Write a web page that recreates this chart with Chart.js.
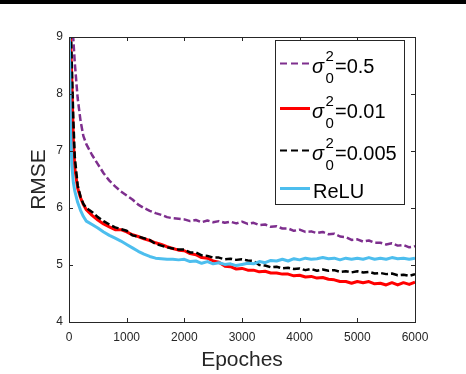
<!DOCTYPE html>
<html>
<head>
<meta charset="utf-8">
<script src="https://cdn.jsdelivr.net/npm/chart.js@4/dist/chart.umd.min.js"></script>
<style>
  html, body { margin: 0; padding: 0; background: #fff; }
  canvas { display: block; }
</style>
</head>
<body>
<canvas id="rmseChart" width="466" height="374"></canvas>
<script>
const epochs = [0, 25, 50, 75, 100, 150, 200, 250, 300,
  400, 500, 600, 700, 800, 900,
  1000, 1100, 1200, 1300, 1400, 1500, 1600, 1700, 1800, 1900,
  2000, 2100, 2200, 2300, 2400, 2500, 2600, 2700, 2800, 2900,
  3000, 3100, 3200, 3300, 3400, 3500, 3600, 3700, 3800, 3900,
  4000, 4100, 4200, 4300, 4400, 4500, 4600, 4700, 4800, 4900,
  5000, 5100, 5200, 5300, 5400, 5500, 5600, 5700, 5800, 5900,
  6000];

const sigma05 = [11.5, 10.4, 9.6, 8.96, 8.55, 7.93, 7.53, 7.26, 7.12,
  6.93, 6.77, 6.61, 6.48, 6.38, 6.29,
  6.22, 6.15, 6.06, 6.00, 5.95, 5.91, 5.88, 5.84, 5.82, 5.81,
  5.80, 5.77, 5.79, 5.75, 5.78, 5.75, 5.77, 5.74, 5.76, 5.73,
  5.76, 5.72, 5.74, 5.70, 5.71, 5.67, 5.68, 5.64, 5.64, 5.60,
  5.62, 5.58, 5.59, 5.56, 5.58, 5.54, 5.55, 5.50, 5.49, 5.44,
  5.45, 5.41, 5.43, 5.39, 5.39, 5.36, 5.38, 5.34, 5.35, 5.31,
  5.33];

const sigma001 = [10.0, 9.0, 8.2, 7.2, 6.70, 6.35, 6.18, 6.06, 5.97,
  5.87, 5.79, 5.72, 5.67, 5.62, 5.62,
  5.58, 5.53, 5.50, 5.46, 5.43, 5.39, 5.36, 5.32, 5.29, 5.26,
  5.25, 5.20, 5.18, 5.13, 5.12, 5.07, 5.05, 4.98, 4.97, 4.93,
  4.94, 4.91, 4.91, 4.88, 4.89, 4.86, 4.86, 4.84, 4.84, 4.81,
  4.82, 4.79, 4.80, 4.77, 4.78, 4.75, 4.74, 4.71, 4.71, 4.68,
  4.71, 4.69, 4.71, 4.67, 4.68, 4.65, 4.69, 4.65, 4.69, 4.66,
  4.70];

const sigma0005 = [10.5, 9.5, 8.45, 7.56, 6.90, 6.40, 6.20, 6.07, 6.00,
  5.93, 5.84, 5.77, 5.71, 5.66, 5.63,
  5.60, 5.52, 5.50, 5.47, 5.44, 5.37, 5.34, 5.31, 5.29, 5.27,
  5.27, 5.22, 5.22, 5.17, 5.16, 5.13, 5.13, 5.10, 5.11, 5.09,
  5.10, 5.08, 5.07, 5.00, 4.99, 4.96, 4.97, 4.94, 4.95, 4.93,
  4.94, 4.91, 4.93, 4.90, 4.92, 4.90, 4.91, 4.88, 4.89, 4.87,
  4.89, 4.87, 4.88, 4.85, 4.86, 4.84, 4.85, 4.82, 4.83, 4.81,
  4.84];

const relu = [9.5, 7.4, 6.75, 6.45, 6.30, 6.10, 5.96, 5.85, 5.77,
  5.71, 5.65, 5.58, 5.52, 5.47, 5.42,
  5.36, 5.30, 5.24, 5.19, 5.15, 5.12, 5.11, 5.10, 5.10, 5.09,
  5.10, 5.06, 5.07, 5.03, 5.06, 5.02, 5.04, 5.01, 5.02, 4.99,
  5.01, 5.03, 5.02, 5.06, 5.04, 5.08, 5.07, 5.10, 5.07, 5.11,
  5.09, 5.12, 5.10, 5.11, 5.13, 5.11, 5.12, 5.09, 5.12, 5.10,
  5.12, 5.10, 5.13, 5.10, 5.12, 5.10, 5.13, 5.11, 5.12, 5.10,
  5.12];

const xTicks = [0, 1000, 2000, 3000, 4000, 5000, 6000];
const yTicks = [4, 5, 6, 7, 8, 9];

// legend entries: the part after sigma, or plain text for ReLU
const legendItems = [
  { value: '=0.5', color: '#7E2F8E', dash: [7, 4], width: 2 },
  { value: '=0.01', color: '#FF0000', dash: [], width: 3 },
  { value: '=0.005', color: '#000000', dash: [7, 4], width: 2 },
  { label: 'ReLU', color: '#4DBEEE', dash: [], width: 3 }
];

const FONT = '"Liberation Sans", Arial, Helvetica, sans-serif';
const AXIS = '#262626';

function toPoints(values) {
  return epochs.map((e, i) => ({ x: e, y: values[i] }));
}

const framePlugin = {
  id: 'frame',
  beforeDraw(chart) {
    const ctx = chart.ctx;
    ctx.save();
    ctx.fillStyle = '#fff';
    ctx.fillRect(0, 0, chart.width, chart.height);
    ctx.fillStyle = '#000';
    ctx.fillRect(0, 0, chart.width, 4);
    ctx.restore();
  },
  afterDraw(chart) {
    const ctx = chart.ctx;
    const a = chart.chartArea;
    const xs = chart.scales.x, ys = chart.scales.y;
    ctx.save();
    ctx.strokeStyle = AXIS;
    ctx.lineWidth = 1;
    ctx.setLineDash([]);
    ctx.strokeRect(a.left + 0.5, a.top + 0.5, a.right - a.left, a.bottom - a.top);
    ctx.beginPath();
    xTicks.forEach(v => {
      const px = Math.round(xs.getPixelForValue(v)) + 0.5;
      ctx.moveTo(px, a.bottom); ctx.lineTo(px, a.bottom - 4);
      ctx.moveTo(px, a.top); ctx.lineTo(px, a.top + 4);
    });
    yTicks.forEach(v => {
      const py = Math.round(ys.getPixelForValue(v)) + 0.5;
      ctx.moveTo(a.left, py); ctx.lineTo(a.left + 4, py);
      ctx.moveTo(a.right, py); ctx.lineTo(a.right - 4, py);
    });
    ctx.stroke();

    // legend box
    const bx = 275.5, by = 40.5, bw = 129, bh = 164;
    ctx.fillStyle = '#fff';
    ctx.fillRect(bx, by, bw, bh);
    ctx.strokeStyle = AXIS;
    ctx.strokeRect(bx, by, bw, bh);

    const rows = [63.5, 108.5, 150.5, 188.5];
    legendItems.forEach((item, i) => {
      const ly = rows[i];
      ctx.beginPath();
      ctx.strokeStyle = item.color;
      ctx.lineWidth = item.width;
      ctx.setLineDash(item.dash);
      ctx.moveTo(280, ly);
      ctx.lineTo(310, ly);
      ctx.stroke();
      ctx.setLineDash([]);
      ctx.fillStyle = '#000';
      ctx.textAlign = 'left';
      ctx.textBaseline = 'alphabetic';
      if (item.label) {
        ctx.font = '20px ' + FONT;
        ctx.fillText(item.label, 313, ly + 9);
      } else {
        ctx.font = 'italic 20px ' + FONT;
        ctx.fillText('\u03C3', 312, ly + 9);
        ctx.font = '15px ' + FONT;
        ctx.fillText('2', 325.5, ly - 3);
        ctx.fillText('0', 325.5, ly + 19);
        ctx.font = '20px ' + FONT;
        ctx.fillText(item.value, 335, ly + 9);
      }
    });
    ctx.restore();
  }
};

const common = { pointRadius: 0, tension: 0, fill: false, clip: 0, borderJoinStyle: 'round' };

new Chart(document.getElementById('rmseChart').getContext('2d'), {
  type: 'line',
  data: {
    datasets: [
      Object.assign({ label: 'sigma 0.5', data: toPoints(sigma05), borderColor: '#7E2F8E', borderWidth: 2.5, borderDash: [7, 3], order: 3 }, common),
      Object.assign({ label: 'sigma 0.01', data: toPoints(sigma001), borderColor: '#FF0000', borderWidth: 3, order: 2 }, common),
      Object.assign({ label: 'sigma 0.005', data: toPoints(sigma0005), borderColor: '#000000', borderWidth: 2.5, borderDash: [7, 3], order: 1 }, common),
      Object.assign({ label: 'ReLU', data: toPoints(relu), borderColor: '#4DBEEE', borderWidth: 3, order: 0 }, common)
    ]
  },
  options: {
    responsive: false,
    animation: false,
    devicePixelRatio: 1,
    layout: { padding: { top: 37, right: 51, left: 0, bottom: 0 } },
    plugins: { legend: { display: false }, tooltip: { enabled: false } },
    scales: {
      x: {
        type: 'linear', min: 0, max: 6000,
        afterFit(scale) { scale.height = 52; },
        afterBuildTicks(scale) { scale.ticks = xTicks.map(v => ({ value: v })); },
        grid: { display: false, drawTicks: false },
        border: { display: false },
        ticks: { color: AXIS, font: { family: FONT, size: 12 }, padding: 8, maxRotation: 0, callback: v => String(v) },
        title: { display: true, text: 'Epoches', color: AXIS, font: { family: FONT, size: 21 }, padding: { top: 0, bottom: 1 } }
      },
      y: {
        type: 'linear', min: 4, max: 9,
        afterFit(scale) { scale.width = 69; },
        afterBuildTicks(scale) { scale.ticks = yTicks.map(v => ({ value: v })); },
        grid: { display: false, drawTicks: false },
        border: { display: false },
        ticks: { color: AXIS, font: { family: FONT, size: 12 }, padding: 6, callback: v => String(v) },
        title: { display: true, text: 'RMSE', color: AXIS, font: { family: FONT, size: 21 }, padding: { top: 27, bottom: 0 } }
      }
    }
  },
  plugins: [framePlugin]
});
</script>
</body>
</html>
